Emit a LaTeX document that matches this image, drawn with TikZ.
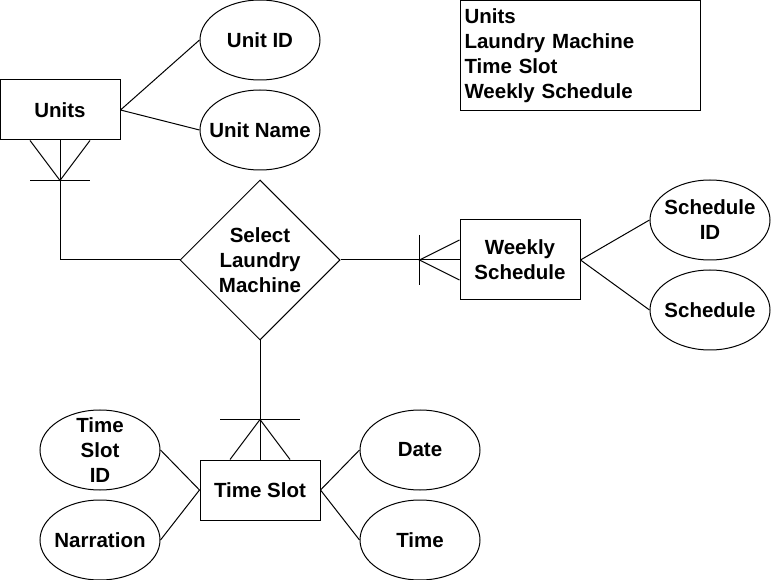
\documentclass[tikz,border=0pt]{standalone}
\usepackage{fontspec}
\setmainfont{Liberation Sans}
\usetikzlibrary{calc,positioning,shapes.geometric}

\begin{document}
\begin{tikzpicture}[x=1pt, y=-1pt, line width=1pt,
      every node/.style={font=\fontsize{20.5}{25}\selectfont\bfseries},
      entity/.style={draw, rectangle, minimum width=120pt, minimum height=60pt, inner sep=0pt, align=center},
      attrib/.style={draw, ellipse, minimum width=120pt, minimum height=80pt, inner sep=-12pt, align=center},
      relation/.style={draw, diamond, minimum width=160pt, minimum height=160pt, inner sep=0pt, align=center},
      legendbox/.style={draw, rectangle, anchor=north west, minimum width=240pt, minimum height=110pt, text width=232pt, inner xsep=4pt, align=left}
    ]
      \useasboundingbox (0,0) rectangle (772,580);

      % Entities
      \node[entity] (units) at (60,110) {Units};
      \node[entity, minimum height=80pt] (weekly) at (520,260) {Weekly\\Schedule};
      \node[entity] (slot) at (260,490) {Time Slot};

      % Relation
      \node[relation] (select) at (260,260) {Select\\Laundry\\Machine};

      % Attributes
      \node[attrib] (unitid) at (260,40) {Unit ID};
      \node[attrib] (unitname) at (260,130) {Unit Name};
      \node[attrib] (schedid) at (710,220) {Schedule\\ID};
      \node[attrib] (sched) at (710,310) {Schedule};
      \node[attrib] (slotid) at (100,450) {Time\\Slot\\ID};
      \node[attrib] (narration) at (100,540) {Narration};
      \node[attrib] (date) at (420,450) {Date};
      \node[attrib] (time) at (420,540) {Time};

      % Legend
      \node[legendbox] (legend) at (460,0) {Units\\Laundry Machine\\Time Slot\\Weekly Schedule};

      % Attribute links
      \draw (units.east) -- (unitid.west);
      \draw (units.east) -- (unitname.west);
      \draw (weekly.east) -- (schedid.west);
      \draw (weekly.east) -- (sched.west);
      \draw (slot.west) -- (slotid.east);
      \draw (slot.west) -- (narration.east);
      \draw (slot.east) -- (date.west);
      \draw (slot.east) -- (time.west);

      % Units -- Select (crow's foot at Units)
      \coordinate (ufoot) at ($(units.south)+(0,40)$);
      \draw (units.south) |- (select.west);
      \draw ([xshift=-30pt]units.south) -- (ufoot) -- ([xshift=30pt]units.south);
      \draw ([xshift=-30pt]ufoot) -- ([xshift=30pt]ufoot);

      % Select -- Weekly Schedule (crow's foot at Weekly Schedule)
      \coordinate (wfoot) at ($(weekly.west)+(-40,0)$);
      \draw (select.east) -- (weekly.west);
      \draw ($(weekly.west)+(0,-20)$) -- (wfoot) -- ($(weekly.west)+(0,20)$);
      \draw ($(wfoot)+(0,-25)$) -- ($(wfoot)+(0,25)$);

      % Select -- Time Slot (crow's foot at Time Slot)
      \coordinate (tfoot) at ($(slot.north)+(0,-40)$);
      \draw (select.south) -- (slot.north);
      \draw ([xshift=-30pt]slot.north) -- (tfoot) -- ([xshift=30pt]slot.north);
      \draw ([xshift=-40pt]tfoot) -- ([xshift=40pt]tfoot);
    \end{tikzpicture}
\end{document}
